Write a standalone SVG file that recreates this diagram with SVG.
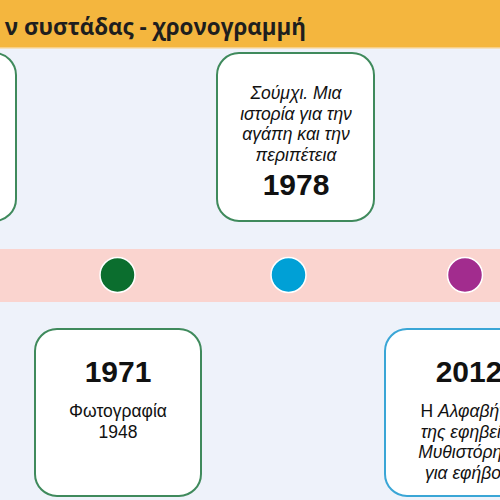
<svg xmlns="http://www.w3.org/2000/svg" width="500" height="500" viewBox="0 0 500 500">
<style>
.card{fill:#fff;stroke-width:2}
.g{stroke:#3f8a5c}
.b{stroke:#3aa6d6}
.yr{font-family:"Liberation Sans",Arial,sans-serif;font-weight:bold;font-size:30px;fill:#111;text-anchor:middle}
.t{font-family:"Liberation Sans",Arial,sans-serif;font-size:17.5px;fill:#111;text-anchor:middle}
.i{font-style:italic}
.dot{stroke:#fff;stroke-width:1.5}
</style>
<rect width="500" height="500" fill="#eef2fa"/>
<rect width="500" height="48" fill="#f4b63e"/>
<rect y="47" width="500" height="1.5" fill="#f7cf86"/>
<text x="306" y="35" text-anchor="end" font-family="'Open Sans','Noto Sans',sans-serif" font-weight="bold" font-size="22.4" fill="#1e1e1e">ν συστάδας - χρονογραμμή</text>
<rect y="249" width="500" height="53" fill="#fad4cf"/>
<g id="connectors"></g>
<g id="node-prev"><rect class="card g" x="-150" y="53" width="166" height="168" rx="22"/></g>
<g id="node-1978">
<rect class="card g" x="217" y="53" width="157" height="168" rx="22"/>
<text class="t i" x="296" y="99">Σούμχι. Μια</text>
<text class="t i" x="296" y="120">ιστορία για την</text>
<text class="t i" x="296" y="140">αγάπη και την</text>
<text class="t i" x="296" y="161">περιπέτεια</text>
<text class="yr" x="296" y="195" font-size="31">1978</text>
</g>
<g id="node-1971">
<rect class="card g" x="35" y="329" width="166" height="167" rx="22"/>
<text class="yr" x="118" y="382">1971</text>
<text class="t" x="118" y="417" font-size="19">Φωτογραφία</text>
<text class="t" x="118" y="438" font-size="19">1948</text>
</g>
<g id="node-2012">
<rect class="card b" x="385" y="329" width="166" height="167" rx="22"/>
<text class="yr" x="469" y="382">2012</text>
<text class="t" x="468" y="417">Η <tspan class="i">Αλφαβήτα</tspan></text>
<text class="t i" x="470" y="438">της εφηβείας</text>
<text class="t i" x="470" y="458">Μυθιστόρημα</text>
<text class="t i" x="472" y="479">για εφήβους</text>
</g>
<g id="dot-1971"><circle class="dot" cx="117.5" cy="275" r="17.5" fill="#0b6e2e"/></g>
<g id="dot-1978"><circle class="dot" cx="288.5" cy="275" r="17.5" fill="#00a0d6"/></g>
<g id="dot-2012"><circle class="dot" cx="465" cy="275" r="17.5" fill="#a22c8e"/></g>
</svg>
